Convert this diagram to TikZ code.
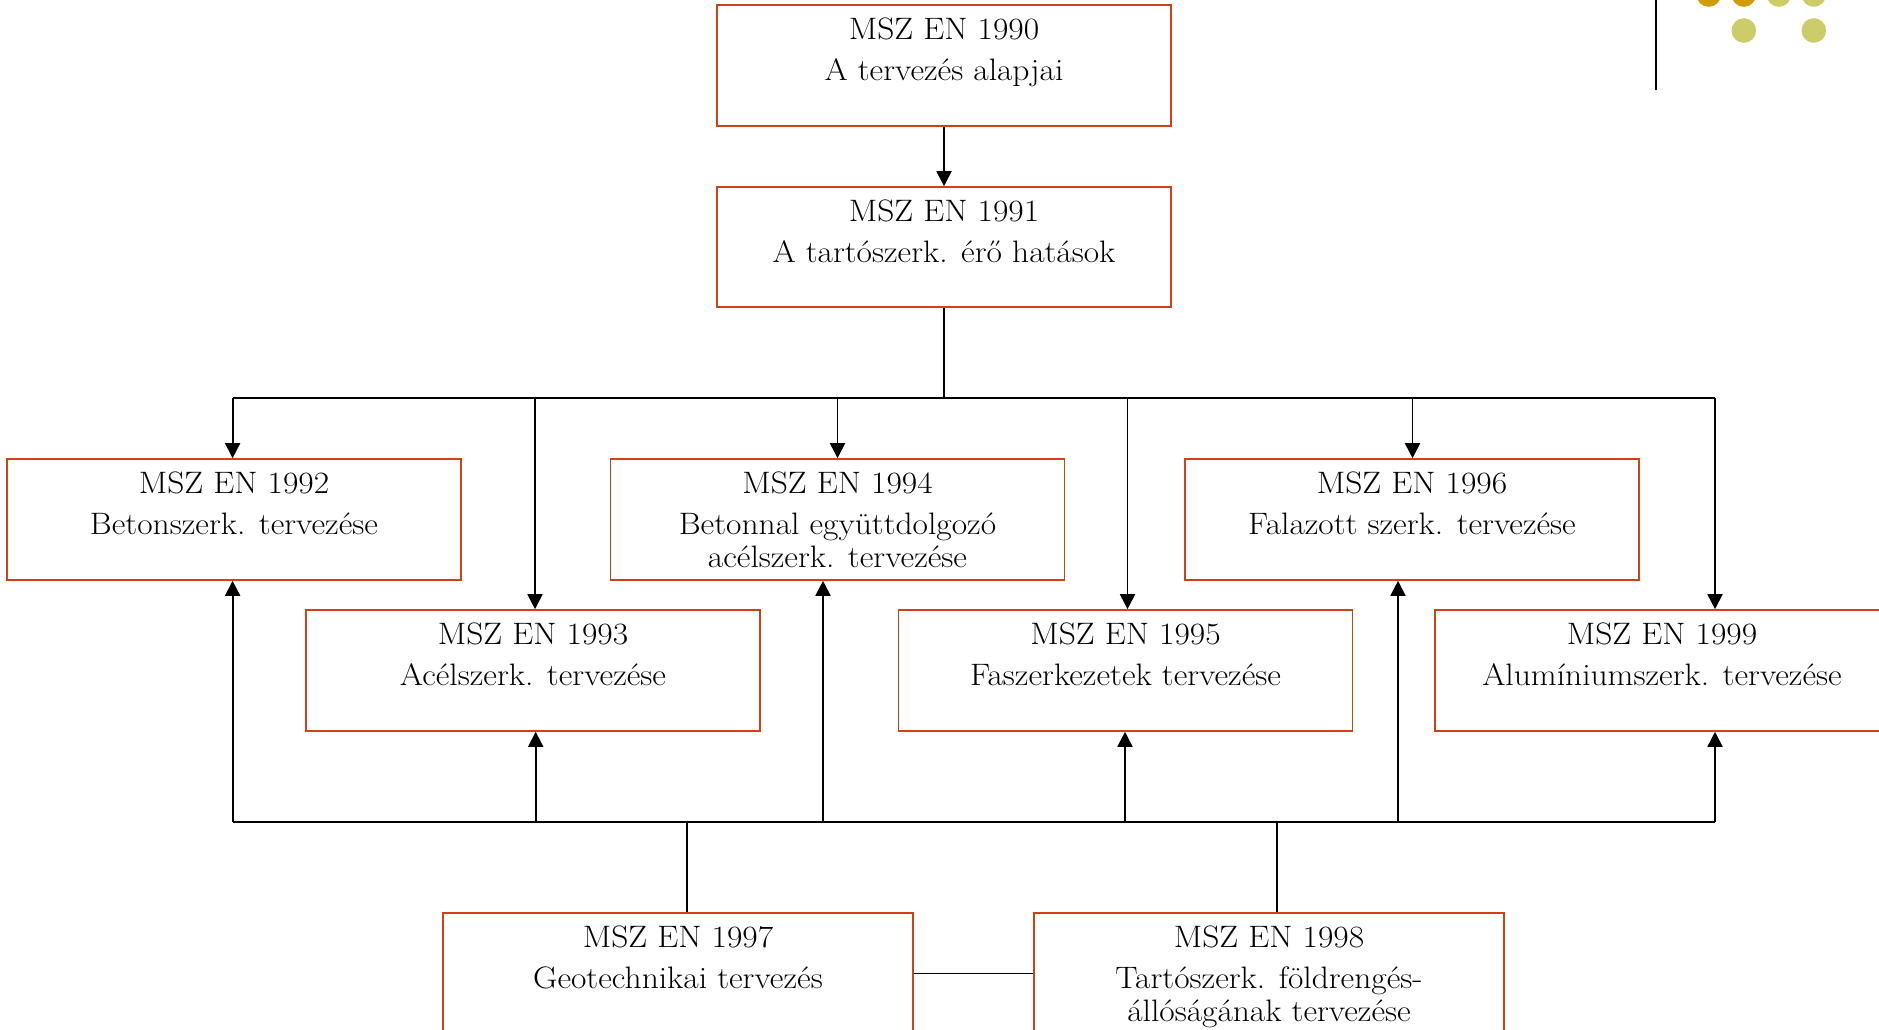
\documentclass[tikz,border=0pt]{standalone}
\usepackage{fontspec}
\setmainfont{Latin Modern Roman}[FakeStretch=1.08]
\usetikzlibrary{arrows.meta}
\definecolor{boxred}{RGB}{208,66,20}
\definecolor{dotgold}{RGB}{208,156,0}
\definecolor{dotolive}{RGB}{204,204,104}
\tikzset{
  box/.style={draw=boxred, line width=1.6pt, fill=white, minimum width=454pt,
    minimum height=121pt, inner sep=0pt},
  widebox/.style={box, minimum width=470pt},
  lbl/.style={anchor=north, inner sep=0pt, align=center, yshift=-12pt,
    font=\fontsize{31}{33}\selectfont},
  link/.style={line width=1.8pt, draw=black},
  arr/.style={link, -{Triangle[length=15pt,width=15pt]}},
  dot/.style={radius=12.3pt}
}
\newcommand{\firstline}{\rule{0pt}{23pt}}
\begin{document}
\begin{tikzpicture}[x=1pt,y=-1pt]
\useasboundingbox (0,0) rectangle (1879,1030);
\clip (0,0) rectangle (1879,1030);

% corner ornament
\draw[line width=2.2pt] (1655.7,0) -- (1655.7,90);
\fill[dotgold]  (1708.7,-5.5) circle[dot];
\fill[dotgold]  (1743.8,-5.5) circle[dot];
\fill[dotolive] (1778.8,-5.5) circle[dot];
\fill[dotolive] (1813.8,-5.5) circle[dot];
\fill[dotolive] (1743.8,30.5) circle[dot];
\fill[dotolive] (1813.8,30.5) circle[dot];

% boxes
\node[box, minimum height=121pt] (n90) at (944,65.5) {};
\node[box, minimum height=120pt] (n91) at (944,247) {};
\node[box] (n92) at (234,519.5) {};
\node[box] (n94) at (837.5,519.5) {};
\node[box] (n96) at (1412,519.5) {};
\node[box] (n93) at (533,670.5) {};
\node[box] (n95) at (1125.5,670.5) {};
\node[box] (n99) at (1662,670.5) {};
\node[widebox] (n97) at (678,973.5) {};
\node[widebox] (n98) at (1269,973.5) {};

% labels
\node[lbl] (t90) at (n90.north) {\firstline MSZ EN 1990\\[8pt]A tervezés alapjai};
\node[lbl] (t91) at (n91.north) {\firstline MSZ EN 1991\\[8pt]A tartószerk. érő hatások};
\node[lbl] (t92) at (n92.north) {\firstline MSZ EN 1992\\[8pt]Betonszerk. tervezése};
\node[lbl] (t93) at (n93.north) {\firstline MSZ EN 1993\\[8pt]Acélszerk. tervezése};
\node[lbl] (t94) at (n94.north) {\firstline MSZ EN 1994\\[8pt]Betonnal együttdolgozó\\acélszerk. tervezése};
\node[lbl] (t95) at (n95.north) {\firstline MSZ EN 1995\\[8pt]Faszerkezetek tervezése};
\node[lbl] (t96) at (n96.north) {\firstline MSZ EN 1996\\[8pt]Falazott szerk. tervezése};
\node[lbl] (t99) at (n99.north) {\firstline MSZ EN 1999\\[8pt]Alumíniumszerk. tervezése};
\node[lbl] (t97) at (n97.north) {\firstline MSZ EN 1997\\[8pt]Geotechnikai tervezés};
\node[lbl] (t98) at (n98.north) {\firstline MSZ EN 1998\\[8pt]Tartószerk. földrengés-\\állóságának tervezése};

% upper distribution bus
\coordinate (tbL) at (232.6,398);
\coordinate (tbR) at (1715,398);
\coordinate (d93) at (535,398);
\coordinate (d94) at (837.5,398);
\coordinate (d95) at (1127.5,398);
\coordinate (d96) at (1412.5,398);

\draw[arr] (n90.south) -- (n91.north);
\draw[link] (n91.south) -- (n91.south |- tbL);
\draw[link] (tbL) -- (tbR);
\draw[arr] (tbL) -- (tbL |- n92.north);
\draw[arr] (d93) -- (d93 |- n93.north);
\draw[arr] (d94) -- (d94 |- n94.north);
\draw[arr] (d95) -- (d95 |- n95.north);
\draw[arr] (d96) -- (d96 |- n96.north);
\draw[arr] (tbR) -- (tbR |- n99.north);

% lower collecting bus
\coordinate (bbL) at (232.6,822);
\coordinate (bbR) at (1715,822);
\coordinate (u93) at (535.7,822);
\coordinate (u94) at (823,822);
\coordinate (u95) at (1125,822);
\coordinate (u96) at (1398,822);
\coordinate (s97) at (687,822);
\coordinate (s98) at (1277,822);

\draw[link] (bbL) -- (bbR);
\draw[arr] (bbL) -- (bbL |- n92.south);
\draw[arr] (u93) -- (u93 |- n93.south);
\draw[arr] (u94) -- (u94 |- n94.south);
\draw[arr] (u95) -- (u95 |- n95.south);
\draw[arr] (u96) -- (u96 |- n96.south);
\draw[arr] (bbR) -- (bbR |- n99.south);
\draw[link] (s97) -- (s97 |- n97.north);
\draw[link] (s98) -- (s98 |- n98.north);
\draw[link] (n97.east) -- (n98.west);
\end{tikzpicture}
\end{document}
